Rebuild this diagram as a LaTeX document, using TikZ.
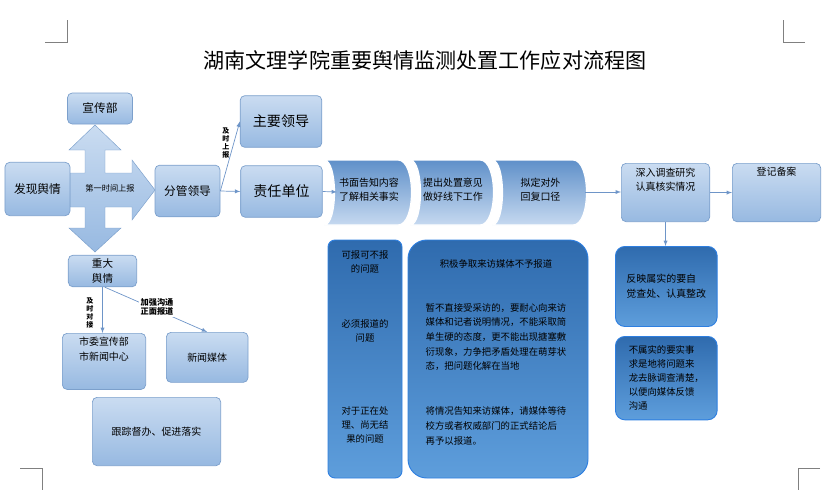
\documentclass[tikz,border=0pt]{standalone}
\usepackage{fontspec}
\setmainfont{Noto Sans CJK SC}
\usetikzlibrary{positioning}

\definecolor{lighttop}{HTML}{CADCF1}
\definecolor{lightbot}{HTML}{97B9E1}
\definecolor{lightline}{HTML}{7CA0CC}
\definecolor{darktop}{HTML}{2F6BAE}
\definecolor{darkbot}{HTML}{5E9EDC}
\definecolor{darkline}{HTML}{2E7FE0}
\definecolor{chevtop}{HTML}{5F90C9}
\definecolor{chevbot}{HTML}{C6D9F0}
\definecolor{arrowc}{HTML}{6E95C8}

\tikzset{
  lightbox/.style={draw=lightline, rounded corners=4pt, top color=lighttop, bottom color=lightbot, line width=0.6pt, align=center, font=\fontsize{10}{13}\selectfont},
  darkbox/.style={draw=darkline, rounded corners=8pt, top color=darktop, bottom color=darkbot, line width=0.8pt, align=left, font=\fontsize{8}{12}\selectfont},
  flow/.style={->, >=latex, draw=arrowc, line width=0.6pt},
  vlabel/.style={font=\bfseries\fontsize{6}{7}\selectfont, align=center, inner sep=1pt}
}

\begin{document}
\begin{tikzpicture}[x=0.03cm, y=-0.03cm]
    \useasboundingbox (0,0) rectangle (839,500);

    % page corner marks
    \draw[gray, line width=0.4pt] (67,20) -- (67,42) -- (45,42);
    \draw[gray, line width=0.4pt] (783,20) -- (783,42) -- (805,42);
    \draw[gray, line width=0.4pt] (20,468) -- (42,468) -- (42,490);
    \draw[gray, line width=0.4pt] (820,468) -- (798,468) -- (798,490);

    \node (title) at (425,60) {\fontsize{18}{20}\selectfont 湖南文理学院重要舆情监测处置工作应对流程图};

    % cross arrow
    \shade[top color=lighttop, bottom color=lightbot, draw=lightline]
        (95,125) -- (121,150) -- (105,150) -- (105,173) -- (132,173) -- (132,160) -- (155,190)
        -- (132,220) -- (132,207) -- (105,207) -- (105,228) -- (121,228) -- (95,252)
        -- (69,228) -- (85,228) -- (85,207) -- (70,207) -- (70,173) -- (85,173) -- (85,150) -- (69,150) -- cycle;
    \node[font=\fontsize{7}{8}\selectfont] (first) at (110,188) {第一时间上报};

    \node[lightbox, minimum width=1.95cm, minimum height=0.93cm] (xcb) at (100,108.5) {宣传部};
    \node[lightbox, minimum width=1.95cm, minimum height=1.6cm] (find) at (37.5,189) {发现舆情};
    \node[lightbox, minimum width=1.95cm, minimum height=1.55cm] (fgld) at (187.5,191) {分管领导};
    \node[lightbox, minimum width=2.45cm, minimum height=1.55cm, font=\fontsize{12}{14}\selectfont] (zyld) at (281,121.5) {主要领导};
    \node[lightbox, minimum width=2.45cm, minimum height=1.55cm, font=\fontsize{12}{14}\selectfont] (zrdw) at (281.5,191.5) {责任单位};

    \draw[flow] (fgld.east) -- (zyld.west);
    \node[vlabel] (jssb) at (226,143) {及\\时\\上\\报};
    \draw[flow] (fgld.east) -- (zrdw.west);

    % chevron steps
    \foreach \xa/\xb/\nm in {324/410/stepa, 410/492/stepb, 492/585/stepc} {
        \shade[top color=chevtop, bottom color=chevbot, draw=white, line width=1pt]
            (\xa,160) -- (\xb-12,160) .. controls (\xb+6,160) and (\xb+6,225) .. (\xb-12,225)
            -- (\xa,225) .. controls (\xa+14,225) and (\xa+14,160) .. (\xa,160);
        \coordinate (\nm) at ({(\xa+\xb)/2+2},190);
    }
    \node[font=\fontsize{8.5}{12}\selectfont, align=left] (sm) at (stepa) {书面告知内容\\了解相关事实};
    \node[font=\fontsize{8.5}{12}\selectfont, align=left] (tc) at (stepb) {提出处置意见\\做好线下工作};
    \node[font=\fontsize{8.5}{12}\selectfont, align=left] (nd) at (stepc) {拟定对外\\回复口径};
    \coordinate (chin) at (337,192);
    \coordinate (chout) at (585,192);
    \draw[flow] (zrdw.east) -- (chin);

    \node[lightbox, minimum width=2.65cm, minimum height=1.75cm, font=\fontsize{8.5}{12}\selectfont, anchor=north west] (srdc) at (621,163) {深入调查研究\\认真核实情况\\[10pt]};
    \node[lightbox, minimum width=2.65cm, minimum height=1.75cm, font=\fontsize{8.5}{12}\selectfont, anchor=north west] (djba) at (732,163) {登记备案\\[24pt]};
    \draw[flow] (chout) -- (srdc.west |- chout);
    \draw[flow] (srdc.east |- djba.center) -- (djba.west);

    \node[darkbox, minimum width=3.05cm, minimum height=2.4cm, anchor=north west, font=\fontsize{8.5}{13}\selectfont] (fysh) at (615,246) {反映属实的要自\\觉查处、认真整改};
    \node[darkbox, minimum width=3.05cm, minimum height=2.5cm, anchor=north west, inner sep=3pt] (bss) at (615,336) {不属实的要实事\\求是地将问题来\\龙去脉调查清楚，\\以便向媒体反馈\\沟通};
    \draw[flow] (srdc.south) -- (fysh.north -| srdc.south);

    % left column and big box
    \shade[top color=darktop, bottom color=darkbot, rounded corners=6pt, draw=darkline, line width=0.8pt] (328,240) rectangle (402,478);
    \node[font=\fontsize{8}{12}\selectfont, align=center] (kbk) at (365,262) {可报可不报\\的问题};
    \node[font=\fontsize{8}{12}\selectfont, align=center] (bxbd) at (365,331) {必须报道的\\问题};
    \node[font=\fontsize{8}{12}\selectfont, align=center] (zzcl) at (365,425) {对于正在处\\理、尚无结\\果的问题};

    \shade[top color=darktop, bottom color=darkbot, rounded corners=16pt, draw=darkline, line width=0.8pt] (408,240) rectangle (588,478);
    \node[font=\fontsize{8}{12}\selectfont] (jjzq) at (496,264) {积极争取来访媒体不予报道};
    \node[font=\fontsize{8}{12.5}\selectfont, align=left] (zbzj) at (496,337) {暂不直接受采访的，要耐心向来访\\媒体和记者说明情况，不能采取简\\单生硬的态度，更不能出现搪塞敷\\衍现象，力争把矛盾处理在萌芽状\\态，把问题化解在当地};
    \node[font=\fontsize{8}{12.5}\selectfont, align=left] (jqk) at (496,426) {将情况告知来访媒体，请媒体等待\\校方或者权威部门的正式结论后\\再予以报道。};

    % major sentiment branch
    \node[lightbox, minimum width=2.05cm, minimum height=0.95cm, font=\fontsize{9}{12}\selectfont] (zdyq) at (102.5,271) {重大\\舆情};
    \node[lightbox, minimum width=2.5cm, minimum height=1.5cm, font=\fontsize{8.5}{13}\selectfont, anchor=north west] (swxc) at (62,333) {市委宣传部\\市新闻中心\\[8pt]};
    \node[lightbox, minimum width=2.45cm, minimum height=1.5cm, font=\fontsize{8.5}{13}\selectfont, anchor=north west] (xwmt) at (166,332) {新闻媒体};
    \node[lightbox, minimum width=3.85cm, minimum height=2.05cm, font=\fontsize{8.5}{13}\selectfont, anchor=north west] (gzdb) at (92,397) {跟踪督办、促进落实};

    \draw[flow] (zdyq.south) -- (zdyq.south |- swxc.north);
    \node[vlabel] (jsdj) at (90,313) {及\\时\\对\\接};
    \draw[flow] ([xshift=2pt]zdyq.south) -- (xwmt.north);
    \node[vlabel, fill=white, font=\bfseries\fontsize{7}{8}\selectfont] (jqgt) at (157,307) {加强沟通\\正面报道};
\end{tikzpicture}
\end{document}
